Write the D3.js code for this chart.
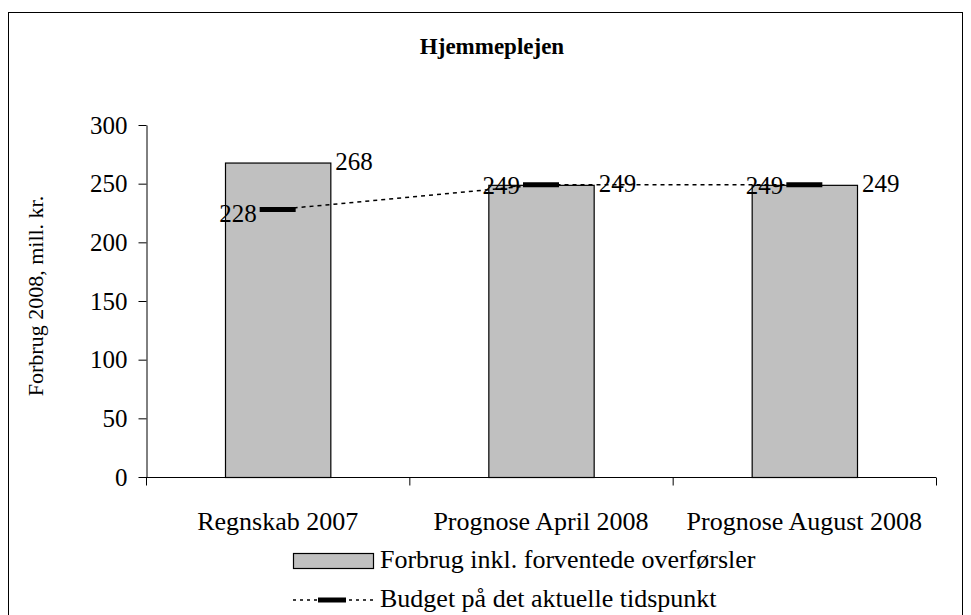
<!DOCTYPE html>
<html>
<head>
<meta charset="utf-8">
<script src="https://cdn.jsdelivr.net/npm/d3@7/dist/d3.min.js"></script>
<style>
  body { margin: 0; background: #fff; }
</style>
</head>
<body>
<svg width="971" height="615" font-family="'Liberation Serif', 'Times New Roman', serif"></svg>
<script>
const categories = ["Regnskab 2007", "Prognose April 2008", "Prognose August 2008"];
const forbrug = [268, 249, 249];
const budget = [228, 249, 249];
const yTicks = [0, 50, 100, 150, 200, 250, 300];

const serif = "'Liberation Serif', 'Times New Roman', serif";
const svg = d3.select("svg");

// outer frame
svg.append("rect")
    .attr("x", 8.5).attr("y", 12.5)
    .attr("width", 954).attr("height", 620)
    .attr("fill", "#fff").attr("stroke", "#000").attr("stroke-width", 1);

const x = d3.scaleBand()
    .domain(categories)
    .range([146, 936])
    .paddingInner(0.6)
    .paddingOuter(0.3);

const y = d3.scaleLinear()
    .domain([0, 300])
    .range([477, 125]);

svg.append("text")
    .attr("x", 492).attr("y", 54)
    .attr("text-anchor", "middle")
    .style("font-family", serif)
    .style("font-size", "23px")
    .style("font-weight", "bold")
    .text("Hjemmeplejen");

// y axis
const yAxis = svg.append("g")
    .attr("transform", "translate(146.5,0)")
    .call(d3.axisLeft(y).tickValues(yTicks).tickSize(8).tickSizeOuter(0).tickPadding(11));
yAxis.attr("font-family", serif);
yAxis.selectAll("text").style("font-size", "25px").attr("dy", "0.33em");

// x axis
const xEdges = [146, 146 + x.step(), 146 + 2 * x.step(), 936];
const xAxis = svg.append("g").attr("transform", "translate(0,477.5)");
xAxis.append("line").attr("x1", 146).attr("x2", 936).attr("stroke", "#000");
xAxis.selectAll(".tk").data(xEdges).join("line")
    .attr("x1", d => d + 0.5).attr("x2", d => d + 0.5)
    .attr("y1", 0).attr("y2", 8)
    .attr("stroke", "#000");
xAxis.selectAll(".cat").data(categories).join("text")
    .attr("x", d => x(d) + x.bandwidth() / 2)
    .attr("y", 52)
    .attr("text-anchor", "middle")
    .style("font-family", serif)
    .style("font-size", "26px")
    .text(d => d);

svg.append("text")
    .attr("transform", "translate(43,296) rotate(-90)")
    .attr("text-anchor", "middle")
    .style("font-family", serif)
    .style("font-size", "22px")
    .text("Forbrug 2008, mill. kr.");

// bars
svg.selectAll(".bar").data(forbrug).join("rect")
    .attr("x", (d, i) => x(categories[i]) + 0.5)
    .attr("y", d => y(d) + 0.5)
    .attr("width", x.bandwidth())
    .attr("height", d => y(0) - y(d))
    .attr("fill", "#c0c0c0")
    .attr("stroke", "#000")
    .attr("stroke-width", 1.2);

svg.selectAll(".barlbl").data(forbrug).join("text")
    .attr("x", (d, i) => x(categories[i]) + x.bandwidth() + 5)
    .attr("y", d => y(d))
    .attr("dy", "0.28em")
    .style("font-family", serif)
    .style("font-size", "25px")
    .text(d => d);

// budget line
const cx = i => x(categories[i]) + x.bandwidth() / 2;
svg.append("path")
    .datum(budget)
    .attr("d", d3.line().x((d, i) => cx(i)).y(d => y(d)))
    .attr("fill", "none")
    .attr("stroke", "#000")
    .attr("stroke-width", 1.5)
    .attr("stroke-dasharray", "4,4");

svg.selectAll(".mark").data(budget).join("line")
    .attr("x1", (d, i) => cx(i) - 18)
    .attr("x2", (d, i) => cx(i) + 18)
    .attr("y1", d => y(d)).attr("y2", d => y(d))
    .attr("stroke", "#000")
    .attr("stroke-width", 5);

svg.selectAll(".budlbl").data(budget).join("text")
    .attr("x", (d, i) => cx(i) - 21)
    .attr("y", (d, i) => y(d) + (i === 0 ? 4 : 0))
    .attr("dy", "0.35em")
    .attr("text-anchor", "end")
    .style("font-family", serif)
    .style("font-size", "25px")
    .text(d => d);

// legend
const leg = svg.append("g");
leg.append("rect")
    .attr("x", 293.5).attr("y", 553.5).attr("width", 80).attr("height", 15)
    .attr("fill", "#c0c0c0").attr("stroke", "#000").attr("stroke-width", 1.2);
leg.append("text").attr("x", 380).attr("y", 568)
    .style("font-family", serif)
    .style("font-size", "26px")
    .text("Forbrug inkl. forventede overførsler");
leg.append("line")
    .attr("x1", 293).attr("x2", 375).attr("y1", 600).attr("y2", 600)
    .attr("stroke", "#000").attr("stroke-width", 1.5).attr("stroke-dasharray", "3,4");
leg.append("line")
    .attr("x1", 318).attr("x2", 346).attr("y1", 600).attr("y2", 600)
    .attr("stroke", "#000").attr("stroke-width", 5);
leg.append("text").attr("x", 380).attr("y", 607)
    .style("font-family", serif)
    .style("font-size", "26px")
    .text("Budget på det aktuelle tidspunkt");
</script>
</body>
</html>
